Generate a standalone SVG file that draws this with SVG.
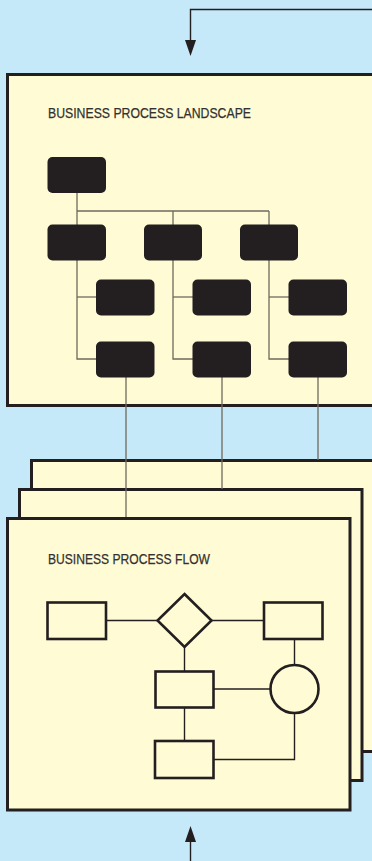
<svg xmlns="http://www.w3.org/2000/svg" width="372" height="861" viewBox="0 0 372 861">
<defs>
<style>
.bg{fill:#c5e9f9}
.panel{fill:#fffbd5;stroke:#231f20;stroke-width:3}
.org{fill:#231f20}
.oline{fill:none;stroke:#6e6a5c;stroke-width:1.3}
.fline{fill:none;stroke:#231f20;stroke-width:1.4}
.shape{fill:#fffbd5;stroke:#231f20;stroke-width:2.6}
.title{font-family:"Liberation Sans Narrow","Liberation Sans",Arial,sans-serif;font-size:15.5px;fill:#333130;stroke:#333130;stroke-width:0.25}
.arrow{fill:#231f20}
</style>
</defs>
<rect class="bg" x="0" y="0" width="372" height="861"/>

<g id="connectors-outer">
<polyline class="fline" points="373,9.5 190.5,9.5 190.5,41"/>
<path class="arrow" d="M185,40 L196,40 L190.5,56 Z"/>
<line class="fline" x1="190.5" y1="842" x2="190.5" y2="861"/>
<path class="arrow" d="M185,842 L196,842 L190.5,826 Z"/>
</g>

<g id="landscape">
<rect class="panel" x="7.5" y="74.5" width="380" height="331"/>
<text class="title" x="48" y="117.5" textLength="203" lengthAdjust="spacingAndGlyphs">BUSINESS PROCESS LANDSCAPE</text>
</g>

<g id="stack-back">
<rect class="panel" x="31.5" y="460.5" width="344" height="291"/>
</g>
<g id="stack-middle">
<rect class="panel" x="19.5" y="489.5" width="342.5" height="291"/>
</g>

<g id="org-connectors">
<line class="oline" x1="77" y1="192" x2="77" y2="225"/>
<polyline class="oline" points="77,211 269,211"/>
<line class="oline" x1="173" y1="211" x2="173" y2="225"/>
<line class="oline" x1="269" y1="211" x2="269" y2="225"/>
<polyline class="oline" points="77,260 77,359 97,359"/>
<line class="oline" x1="77" y1="297" x2="97" y2="297"/>
<polyline class="oline" points="173,260 173,359 193,359"/>
<line class="oline" x1="173" y1="297" x2="193" y2="297"/>
<polyline class="oline" points="269,260 269,359 289,359"/>
<line class="oline" x1="269" y1="297" x2="289" y2="297"/>
<line class="oline" x1="126" y1="377" x2="126" y2="518"/>
<line class="oline" x1="222" y1="377" x2="222" y2="489"/>
<line class="oline" x1="318" y1="377" x2="318" y2="460"/>
</g>

<g id="org-nodes">
<rect id="o1" class="org" x="47.5" y="157" width="58.5" height="36" rx="5"/>
<rect id="o2" class="org" x="47.5" y="224.5" width="58.5" height="36" rx="5"/>
<rect id="o3" class="org" x="144" y="224.5" width="58" height="36" rx="5"/>
<rect id="o4" class="org" x="240" y="224.5" width="58" height="36" rx="5"/>
<rect id="o5" class="org" x="96" y="279.5" width="58.5" height="36" rx="5"/>
<rect id="o6" class="org" x="192.5" y="279.5" width="58.5" height="36" rx="5"/>
<rect id="o7" class="org" x="288.5" y="279.5" width="58.5" height="36" rx="5"/>
<rect id="o8" class="org" x="96" y="341.5" width="58.5" height="36" rx="5"/>
<rect id="o9" class="org" x="192.5" y="341.5" width="58.5" height="36" rx="5"/>
<rect id="o10" class="org" x="288.5" y="341.5" width="58.5" height="36" rx="5"/>
</g>

<g id="flow">
<rect class="panel" x="7.5" y="518.5" width="342.5" height="291.5"/>
<text class="title" x="48" y="563.5" textLength="162" lengthAdjust="spacingAndGlyphs">BUSINESS PROCESS FLOW</text>
</g>

<g id="flow-connectors">
<line class="fline" x1="106" y1="620.5" x2="158" y2="620.5"/>
<line class="fline" x1="211" y1="620.5" x2="264" y2="620.5"/>
<line class="fline" x1="184.5" y1="647" x2="184.5" y2="672"/>
<line class="fline" x1="294.5" y1="639" x2="294.5" y2="665"/>
<line class="fline" x1="214" y1="689" x2="270" y2="689"/>
<line class="fline" x1="184.5" y1="707" x2="184.5" y2="741"/>
<polyline class="fline" points="214,759.5 294.5,759.5 294.5,713"/>
</g>

<g id="f1"><rect class="shape" x="47.5" y="602.5" width="58.5" height="36.5"/></g>
<g id="f2"><path class="shape" d="M184.5,594 L211.5,620.5 L184.5,647 L157.5,620.5 Z"/></g>
<g id="f3"><rect class="shape" x="264" y="602.5" width="58.5" height="36.5"/></g>
<g id="f4"><rect class="shape" x="155.5" y="671.5" width="58" height="36"/></g>
<g id="f5"><circle class="shape" cx="294.5" cy="689" r="24"/></g>
<g id="f6"><rect class="shape" x="155" y="741" width="58.5" height="37"/></g>
</svg>
